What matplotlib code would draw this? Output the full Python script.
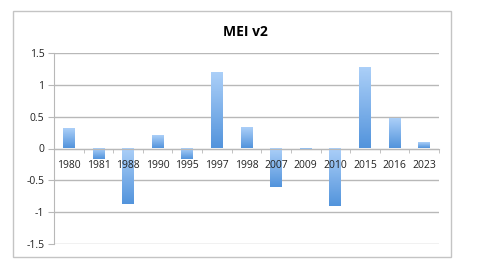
import matplotlib
matplotlib.use("Agg")
import matplotlib.pyplot as plt
import numpy as np
from matplotlib.colors import LinearSegmentedColormap
from matplotlib.patches import Rectangle

# MEI v2 values per year
years = ["1980", "1981", "1988", "1990", "1995", "1997", "1998",
         "2007", "2009", "2010", "2015", "2016", "2023"]
mei = [0.31, -0.16, -0.87, 0.19, -0.17, 1.18, 0.33,
       -0.60, -0.03, -0.90, 1.27, 0.46, 0.08]
yticks = [-1.5, -1, -0.5, 0, 0.5, 1, 1.5]
ytick_labels = ["-1.5", "-1", "-0.5", "0", "0.5", "1", "1.5"]

plt.rcParams["font.family"] = ["Open Sans", "DejaVu Sans"]

fig = plt.figure(figsize=(5.0, 2.64), dpi=100)
fig.patches.append(Rectangle((13 / 500, 1 - 257 / 264), 438 / 500, 246 / 264,
                             transform=fig.transFigure, fill=False,
                             edgecolor="#c4c4c4", lw=1.0))
ax = fig.add_axes([0.108, 0.076, 0.77, 0.723])

# spine position first: moving it later resets tick label styling
ax.spines["bottom"].set_position(("data", 0))
ax.spines["bottom"].set_color("#b8b8b8")
ax.spines["left"].set_color("#b8b8b8")
ax.spines["top"].set_visible(False)
ax.spines["right"].set_visible(False)

# gridlines drawn by hand so they sit under the bars while labels sit on top
for yv in yticks:
    ax.axhline(yv, color="#b8b8b8", lw=1.0, zorder=0.5)

x = np.arange(len(years))
bars = ax.bar(x, mei, width=0.4, color="none", edgecolor="none", zorder=1)

cmap = LinearSegmentedColormap.from_list("bar", ["#5394dc", "#abcff8"])
grad = np.linspace(0, 1, 64).reshape(-1, 1)
for b in bars:
    x0, w = b.get_x(), b.get_width()
    y0, h = b.get_y(), b.get_height()
    lo, hi = min(y0, y0 + h), max(y0, y0 + h)
    ax.imshow(grad, extent=[x0, x0 + w, lo, hi], origin="lower",
              cmap=cmap, aspect="auto", zorder=1)

ax.set_xlim(-0.5, len(years) - 0.5)
ax.set_ylim(-1.5, 1.5)
ax.set_yticks(yticks)
ax.set_yticklabels(ytick_labels, fontsize=7.5, color="#222222")

ax.set_xticks(x)
ax.set_xticklabels(years, fontsize=7.5, color="#222222")
ax.set_xticks(np.arange(-0.5, len(years), 1), minor=True)
ax.tick_params(axis="x", which="major", length=0, pad=8)
ax.tick_params(axis="x", which="minor", length=3, color="#b8b8b8")
ax.tick_params(axis="y", length=4, color="#b8b8b8", pad=3)

fig.text(0.49, 1 - 32 / 264, "MEI v2", ha="center", va="center",
         fontsize=10, fontweight="bold")

fig.savefig("out.png", dpi=100)
